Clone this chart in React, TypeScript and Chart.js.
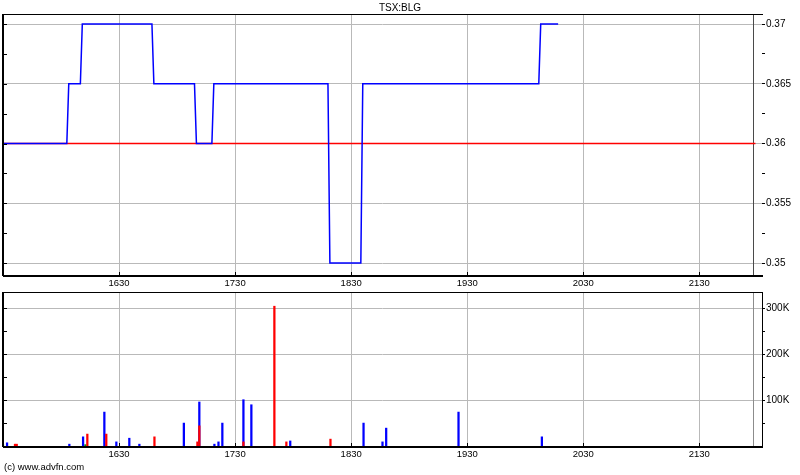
import React, { useEffect, useRef } from 'react';
import { Chart, registerables } from 'chart.js';

Chart.register(...registerables);

// ---------- data ----------
const SYMBOL = 'TSX:BLG';
const COPYRIGHT = '(c) www.advfn.com';

const SESSION_START = '15:30:00';
const SESSION_END = '21:58:00';
const AXIS_END = '22:02:24';

const PREV_CLOSE = 0.36;
const PREV_CLOSE_END = '21:59:00';

const PRICE_TIMES = [
  '15:30', '16:03', '16:04', '16:10', '16:11', '16:47', '16:48', '17:09', '17:10',
  '17:18', '17:19', '18:18', '18:19', '18:35', '18:36', '20:07', '20:08', '20:17',
];
const PRICE_VALUES = [
  0.36, 0.36, 0.365, 0.365, 0.37, 0.37, 0.365, 0.365, 0.36,
  0.36, 0.365, 0.365, 0.35, 0.35, 0.365, 0.365, 0.37, 0.37,
];

const BUY_TIMES = [
  '15:32:06', '16:04:18', '16:11:24', '16:22:24', '16:28:36', '16:35:18', '16:40:30',
  '17:03:30', '17:11:30', '17:19:18', '17:21:24', '17:23:24', '17:34:18', '17:38:24',
  '17:58:30', '18:36:24', '18:46:12', '18:48:06', '19:25:30', '20:08:36',
];
const BUY_VOLUMES = [
  7000, 4000, 20000, 74000, 9000, 17000, 4000,
  50000, 96000, 4000, 9000, 50000, 101000, 90000,
  11000, 50000, 9000, 39000, 74000, 20000,
];

const SELL_TIMES = [
  '15:36:12', '15:37:06', '16:13:36', '16:23:24', '16:48:18', '17:10:30',
  '17:11:30', '17:34:18', '17:50:18', '17:56:30', '18:19:18',
];
const SELL_VOLUMES = [
  4000, 4000, 26000, 26000, 20000, 9000,
  44000, 9000, 305000, 9000, 15000,
];

const NEUTRAL_TIMES = ['15:30:00', '16:12:36'];
const NEUTRAL_VOLUMES = [3000, 3000];

const HOUR_TICKS = ['16:30', '17:30', '18:30', '19:30', '20:30', '21:30'];

const PRICE_MIN = 0.349;
const PRICE_MAX = 0.37084;
const PRICE_TICKS = [0.35, 0.3525, 0.355, 0.3575, 0.36, 0.3625, 0.365, 0.3675, 0.37];
const PRICE_LABELED = [0.35, 0.355, 0.36, 0.365, 0.37];

const VOL_MAX = 336000;
const VOL_TICKS = [50000, 100000, 150000, 200000, 250000, 300000];
const VOL_LABELED = [100000, 200000, 300000];

// ---------- helpers ----------
const toMin = (t: string) => {
  const [h, m, s] = t.split(':').map(Number);
  return h * 60 + m + (s || 0) / 60;
};
const pts = (times: string[], vals: number[]) => times.map((t, i) => ({ x: toMin(t), y: vals[i] }));
const near = (list: number[], v: number) => list.some((l) => Math.abs(l - v) < 1e-9);
const fmtTime = (v: number) => {
  const h = Math.floor(v / 60);
  const m = Math.round(v - h * 60);
  return `${h}${m < 10 ? '0' : ''}${m}`;
};

const FONT = '"Liberation Sans", Arial, sans-serif';
const GRID = '#b9b9b9';

const xScale = (height: number) => ({
  type: 'linear' as const,
  min: toMin(SESSION_START),
  max: toMin(AXIS_END),
  offset: false,
  afterBuildTicks: (s: any) => {
    s.ticks = HOUR_TICKS.map((t) => ({ value: toMin(t) }));
  },
  afterFit: (s: any) => {
    s.height = height;
  },
  grid: { color: GRID, lineWidth: 1, drawTicks: false, offset: false },
  border: { display: false },
  ticks: {
    callback: (v: any) => fmtTime(Number(v)),
    padding: 3,
    autoSkip: false,
    maxRotation: 0,
    color: '#000',
    font: { family: FONT, size: 9.5 },
  },
});

const yScale = (min: number, max: number, ticks: number[], labeled: number[], fmt: (v: number) => string) => ({
  type: 'linear' as const,
  position: 'right' as const,
  min,
  max,
  afterBuildTicks: (s: any) => {
    s.ticks = ticks.map((v) => ({ value: v }));
  },
  afterFit: (s: any) => {
    s.width = 38;
  },
  grid: {
    color: (c: any) => (c.tick && near(labeled, c.tick.value) ? GRID : 'rgba(0,0,0,0)'),
    tickColor: '#000',
    tickLength: 3,
    lineWidth: 1,
  },
  border: { display: false },
  ticks: {
    callback: (v: any) => (near(labeled, Number(v)) ? fmt(Number(v)) : ''),
    padding: 1,
    autoSkip: false,
    color: '#000',
    font: { family: FONT, size: 10 },
  },
});

const framePlugin = (sessionColor: string, rightBorder: boolean) => ({
  id: 'frame',
  beforeDatasetsDraw(chart: any) {
    const { ctx, chartArea: a, scales } = chart;
    const xs = Math.round(scales.x.getPixelForValue(toMin(SESSION_END))) + 0.5;
    ctx.save();
    ctx.strokeStyle = sessionColor;
    ctx.lineWidth = 1;
    ctx.beginPath();
    ctx.moveTo(xs, a.top);
    ctx.lineTo(xs, a.bottom);
    ctx.stroke();
    ctx.restore();
  },
  afterDraw(chart: any) {
    const { ctx, chartArea: a, scales } = chart;
    ctx.save();
    ctx.strokeStyle = '#000';
    ctx.lineWidth = 1;
    ctx.beginPath();
    ctx.moveTo(a.left, a.top + 0.5);
    ctx.lineTo(a.right + 1, a.top + 0.5);
    if (rightBorder) {
      ctx.moveTo(a.right + 0.5, a.top);
      ctx.lineTo(a.right + 0.5, a.bottom);
    }
    // inward tick marks on left
    scales.y.ticks.forEach((t: any) => {
      const y = Math.round(scales.y.getPixelForValue(t.value)) + 0.5;
      ctx.moveTo(a.left, y);
      ctx.lineTo(a.left + 4, y);
    });
    // inward tick marks on bottom
    scales.x.ticks.forEach((t: any) => {
      const x = Math.round(scales.x.getPixelForValue(t.value)) + 0.5;
      ctx.moveTo(x, a.bottom);
      ctx.lineTo(x, a.bottom - 3);
    });
    ctx.stroke();
    ctx.lineWidth = 2;
    ctx.beginPath();
    ctx.moveTo(a.left, a.top);
    ctx.lineTo(a.left, a.bottom + 1);
    ctx.moveTo(a.left, a.bottom + 1);
    ctx.lineTo(a.right + 1, a.bottom + 1);
    ctx.stroke();
    ctx.restore();
  },
});

export default function App() {
  const priceRef = useRef<HTMLCanvasElement>(null);
  const volRef = useRef<HTMLCanvasElement>(null);

  useEffect(() => {
    const priceChart = new Chart(priceRef.current as HTMLCanvasElement, {
      type: 'line',
      data: {
        datasets: [
          {
            data: pts(PRICE_TIMES, PRICE_VALUES),
            borderColor: '#0000ff',
            borderWidth: 1.5,
            pointRadius: 0,
            tension: 0,
            fill: false,
          },
          {
            data: pts([SESSION_START, PREV_CLOSE_END], [PREV_CLOSE, PREV_CLOSE]),
            borderColor: '#ff0000',
            borderWidth: 1.5,
            pointRadius: 0,
            tension: 0,
            fill: false,
          },
        ],
      },
      options: {
        responsive: false,
        animation: false,
        events: [],
        layout: { padding: { left: 3, top: 14, right: 0, bottom: 0 } },
        plugins: { legend: { display: false }, tooltip: { enabled: false }, title: { display: false } },
        scales: {
          x: xScale(17) as any,
          y: yScale(PRICE_MIN, PRICE_MAX, PRICE_TICKS, PRICE_LABELED, (v) => String(Number(v.toFixed(4)))) as any,
        },
      },
      plugins: [framePlugin('#4a4a4a', false)],
    });

    const barOpts = { barThickness: 1.6, grouped: false, borderWidth: 0 };
    const volChart = new Chart(volRef.current as HTMLCanvasElement, {
      type: 'bar',
      data: {
        datasets: [
          { data: pts(SELL_TIMES, SELL_VOLUMES), backgroundColor: '#ff0000', ...barOpts } as any,
          { data: pts(BUY_TIMES, BUY_VOLUMES), backgroundColor: '#0000ff', ...barOpts } as any,
          { data: pts(NEUTRAL_TIMES, NEUTRAL_VOLUMES), backgroundColor: '#00a000', ...barOpts } as any,
        ],
      },
      options: {
        responsive: false,
        animation: false,
        events: [],
        layout: { padding: { left: 3, top: 5, right: 0, bottom: 0 } },
        plugins: { legend: { display: false }, tooltip: { enabled: false }, title: { display: false } },
        scales: {
          x: xScale(29) as any,
          y: yScale(0, VOL_MAX, VOL_TICKS, VOL_LABELED, (v) => `${Math.round(v / 1000)}K`) as any,
        },
      },
      plugins: [framePlugin('#8c8c8c', true)],
    });

    return () => {
      priceChart.destroy();
      volChart.destroy();
    };
  }, []);

  return (
    <div style={{ position: 'absolute', left: 0, top: 0, width: 800, height: 475, background: '#fff', overflow: 'hidden' }}>
      <canvas ref={priceRef} width={800} height={292} style={{ position: 'absolute', left: 0, top: 0, width: 800, height: 292 }} />
      <canvas ref={volRef} width={800} height={190} style={{ position: 'absolute', left: 0, top: 285, width: 800, height: 190 }} />
      <div
        style={{
          position: 'absolute', left: 0, top: 2, width: 800, textAlign: 'center',
          fontFamily: FONT, fontSize: 10, lineHeight: '12px', color: '#000',
        }}
      >
        {SYMBOL}
      </div>
      <div
        style={{
          position: 'absolute', left: 4, top: 461, fontFamily: FONT, fontSize: 9.5,
          lineHeight: '12px', color: '#000', whiteSpace: 'nowrap',
        }}
      >
        {COPYRIGHT}
      </div>
    </div>
  );
}
